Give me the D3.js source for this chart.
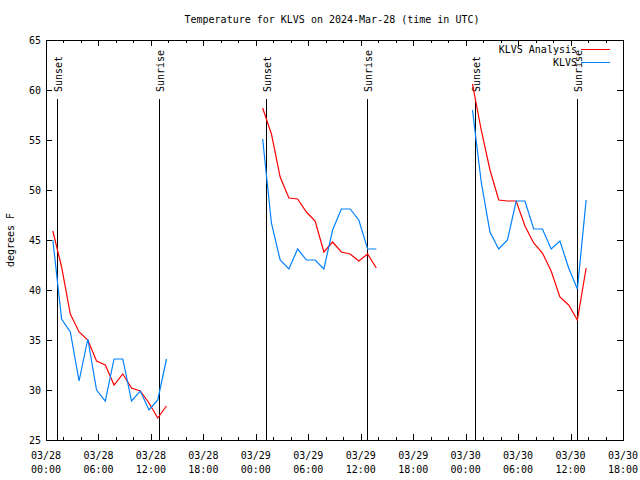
<!DOCTYPE html>
<html>
<head>
<meta charset="utf-8">
<script src="https://cdn.jsdelivr.net/npm/d3@7"></script>
<style>
  html, body { margin: 0; padding: 0; background: #fff; }
  svg { display: block; }
  text { font-family: "DejaVu Sans Mono", "Liberation Mono", monospace; font-size: 10px; fill: #000; }
</style>
</head>
<body>
<svg id="chart" width="640" height="480"></svg>
<script>
// ---------- data ----------
const chartTitle = "Temperature for KLVS on 2024-Mar-28 (time in UTC)";
const yLabel = "degrees F";
const seriesNames = ["KLVS Analysis", "KLVS"];

const times = [
  "2024-03-28 00:47","2024-03-28 01:47","2024-03-28 02:47","2024-03-28 03:47","2024-03-28 04:47","2024-03-28 05:47","2024-03-28 06:47",
  "2024-03-28 07:47","2024-03-28 08:47","2024-03-28 09:47","2024-03-28 10:47","2024-03-28 11:47","2024-03-28 12:47","2024-03-28 13:47",
  "2024-03-29 00:47","2024-03-29 01:47","2024-03-29 02:47","2024-03-29 03:47","2024-03-29 04:47","2024-03-29 05:47","2024-03-29 06:47",
  "2024-03-29 07:47","2024-03-29 08:47","2024-03-29 09:47","2024-03-29 10:47","2024-03-29 11:47","2024-03-29 12:47","2024-03-29 13:47",
  "2024-03-30 00:47","2024-03-30 01:47","2024-03-30 02:47","2024-03-30 03:47","2024-03-30 04:47","2024-03-30 05:47","2024-03-30 06:47",
  "2024-03-30 07:47","2024-03-30 08:47","2024-03-30 09:47","2024-03-30 10:47","2024-03-30 11:47","2024-03-30 12:47","2024-03-30 13:47"
];

const analysisTemps = [
  45.9, 42.3, 37.6, 35.8, 35.0, 32.9, 32.5, 30.5, 31.6, 30.2, 29.9, 28.7, 27.2, 28.4,
  58.2, 55.6, 51.3, 49.2, 49.1, 47.8, 46.9, 43.8, 44.8, 43.8, 43.6, 42.9, 43.6, 42.2,
  60.6, 56.0, 52.0, 49.0, 48.9, 48.9, 46.4, 44.7, 43.7, 41.9, 39.3, 38.5, 37.0, 42.2
];

const obsTemps = [
  45.0, 37.1, 35.8, 30.9, 35.1, 30.0, 28.9, 33.1, 33.1, 28.9, 29.9, 28.0, 29.0, 33.1,
  55.1, 46.7, 43.0, 42.1, 44.1, 43.0, 43.0, 42.1, 46.0, 48.1, 48.1, 47.0, 44.1, 44.1,
  58.0, 50.8, 45.8, 44.1, 45.0, 48.9, 48.9, 46.1, 46.1, 44.1, 44.9, 42.2, 40.1, 49.0
];

const sunEventTimes = ["2024-03-28 01:18","2024-03-28 12:53","2024-03-29 01:10","2024-03-29 12:44","2024-03-30 01:07","2024-03-30 12:41"];
const sunEventLabels = ["Sunset","Sunrise","Sunset","Sunrise","Sunset","Sunrise"];

const xDomain = ["2024-03-28 00:00", "2024-03-30 18:00"];
const yDomain = [25, 65];
const yTicks = [25, 30, 35, 40, 45, 50, 55, 60, 65];

const seriesColors = ["#ff0000", "#0080ff"];

// ---------- drawing ----------
const parse = d3.utcParse("%Y-%m-%d %H:%M");
const svg = d3.select("#chart");
const L = 46, R = 623, T = 40, B = 440;

const x = d3.scaleUtc().domain(xDomain.map(parse)).range([L, R]);
const y = d3.scaleLinear().domain(yDomain).range([B, T]);

// title
svg.append("text").attr("x", 332).attr("y", 23).attr("text-anchor", "middle").text(chartTitle);

// y label
svg.append("text").attr("transform", "translate(14,240) rotate(-90)")
  .attr("text-anchor", "middle").text(yLabel);

// x ticks
const majorTicks = x.ticks(d3.utcHour.every(6));
const minorTicks = x.ticks(d3.utcHour.every(2));
const tickG = svg.append("g").attr("shape-rendering", "crispEdges").attr("stroke", "#000");
minorTicks.forEach(t => {
  const isMajor = t.getUTCHours() % 6 === 0;
  const len = isMajor ? 6 : 3;
  const xx = Math.round(x(t)) + 0.5;
  tickG.append("line").attr("x1", xx).attr("x2", xx).attr("y1", B).attr("y2", B - len);
  tickG.append("line").attr("x1", xx).attr("x2", xx).attr("y1", T).attr("y2", T + len);
});
const fmtDate = d3.utcFormat("%m/%d"), fmtTime = d3.utcFormat("%H:%M");
majorTicks.forEach(t => {
  const xx = x(t);
  svg.append("text").attr("x", xx).attr("y", 459).attr("text-anchor", "middle").text(fmtDate(t));
  svg.append("text").attr("x", xx).attr("y", 473).attr("text-anchor", "middle").text(fmtTime(t));
});

// y ticks
yTicks.forEach(v => {
  const yy = Math.round(y(v)) + 0.5;
  tickG.append("line").attr("x1", L).attr("x2", L + 6).attr("y1", yy).attr("y2", yy);
  tickG.append("line").attr("x1", R).attr("x2", R - 6).attr("y1", yy).attr("y2", yy);
  svg.append("text").attr("x", 41).attr("y", y(v) + 4).attr("text-anchor", "end").text(v);
});

// frame
svg.append("rect").attr("x", L + 0.5).attr("y", T + 0.5).attr("width", R - L).attr("height", B - T)
  .attr("fill", "none").attr("stroke", "#000").attr("shape-rendering", "crispEdges");

// sunrise / sunset lines
sunEventTimes.forEach((s, i) => {
  const xx = Math.round(x(parse(s))) + 0.5;
  svg.append("line").attr("x1", xx).attr("x2", xx).attr("y1", 99).attr("y2", B)
    .attr("stroke", "#000").attr("stroke-width", 1.2).attr("shape-rendering", "crispEdges");
  svg.append("text").attr("transform", `translate(${xx + 4},92) rotate(-90)`)
    .attr("text-anchor", "start").text(sunEventLabels[i]);
});

// data lines (segments separated where gap > 3 h)
const tDates = times.map(parse);
function segments(vals) {
  const segs = []; let cur = [];
  tDates.forEach((t, i) => {
    if (cur.length && (t - cur[cur.length - 1].t) > 3 * 3600e3) { segs.push(cur); cur = []; }
    cur.push({ t, v: vals[i] });
  });
  if (cur.length) segs.push(cur);
  return segs;
}
const line = d3.line().x(d => x(d.t)).y(d => y(d.v));
[analysisTemps, obsTemps].forEach((vals, si) => {
  segments(vals).forEach(seg => {
    svg.append("path").attr("d", line(seg)).attr("fill", "none")
      .attr("stroke", seriesColors[si]).attr("stroke-width", 1.2);
  });
});

// legend
seriesNames.forEach((n, i) => {
  const yy = 49 + i * 13;
  svg.append("text").attr("x", 577).attr("y", yy + 4).attr("text-anchor", "end").text(n);
  svg.append("line").attr("x1", 581).attr("x2", 610).attr("y1", yy + 0.5).attr("y2", yy + 0.5)
    .attr("stroke", seriesColors[i]).attr("shape-rendering", "crispEdges");
});
</script>
</body>
</html>
